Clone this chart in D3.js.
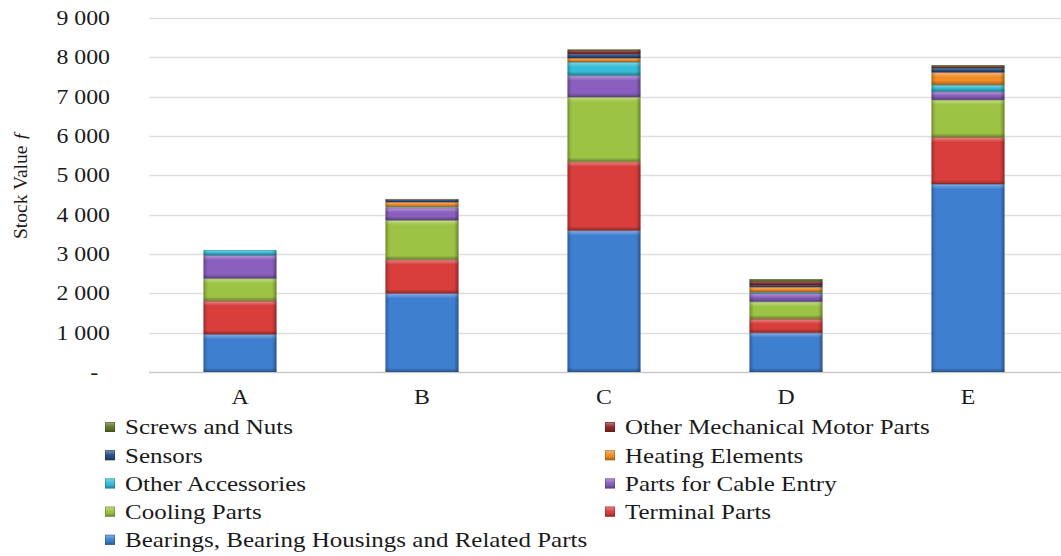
<!DOCTYPE html>
<html>
<head>
<meta charset="utf-8">
<script src="https://cdn.jsdelivr.net/npm/d3@7"></script>
<style>
  html, body { margin: 0; padding: 0; background: #fff; }
  svg { display: block; font-family: "Liberation Serif", "Times New Roman", serif; }
</style>
</head>
<body>
<svg id="chart" width="1061" height="556"></svg>
<script>
// Stock value by category, stacked by part group (bottom to top)
const categories = ["A", "B", "C", "D", "E"];

const bearings   = [960, 2000, 3600, 1000, 4780];
const terminal   = [850,  860, 1750,  350, 1190];
const cooling    = [570, 1000, 1640,  440,  950];
const cableEntry = [590,  320,  550,  210,  210];
const otherAcc   = [130,   20,  340,   30,  170];
const heating    = [  0,  120,  100,  130,  320];
const sensors    = [  0,   60,  110,   50,  110];
const otherMech  = [  0,   10,   85,   90,   40];
const screws     = [  0,   10,   25,   60,   30];

const seriesNames = [
  "Bearings, Bearing Housings and Related Parts",
  "Terminal Parts",
  "Cooling Parts",
  "Parts for Cable Entry",
  "Other Accessories",
  "Heating Elements",
  "Sensors",
  "Other Mechanical Motor Parts",
  "Screws and Nuts"
];
const seriesValues = [bearings, terminal, cooling, cableEntry, otherAcc, heating, sensors, otherMech, screws];
const seriesColors = ["#3f7fd0", "#d83e3c", "#9cc344", "#8a5fbd", "#35bcd6", "#f08b26", "#2a4f86", "#8e2b2b", "#5e7a2c"];

const yTicks = [0, 1000, 2000, 3000, 4000, 5000, 6000, 7000, 8000, 9000];
const yTickLabels = ["-", "1 000", "2 000", "3 000", "4 000", "5 000", "6 000", "7 000", "8 000", "9 000"];

// legend layout: two columns, read row by row
const legendOrder = [8, 7, 6, 5, 4, 3, 2, 1, 0];

// text is drawn slightly widened
const SX = 1.19;

const svg = d3.select("#chart");
const plot = { left: 149, right: 1059, top: 18, bottom: 372 };

const rows = categories.map((c, i) => {
  const r = { category: c };
  seriesNames.forEach((s, k) => { r[s] = seriesValues[k][i]; });
  return r;
});
const stacked = d3.stack().keys(seriesNames)(rows);

const x = d3.scaleBand().domain(categories).range([plot.left, plot.right]).paddingInner(0.6).paddingOuter(0.3);
const y = d3.scaleLinear().domain([0, 9000]).range([plot.bottom, plot.top]);
const color = d3.scaleOrdinal().domain(seriesNames).range(seriesColors);

// gridlines
svg.append("g")
  .selectAll("line")
  .data(yTicks)
  .join("line")
  .attr("x1", plot.left).attr("x2", 1061)
  .attr("y1", d => Math.round(y(d)) + 0.5).attr("y2", d => Math.round(y(d)) + 0.5)
  .attr("stroke", d => d === 0 ? "#c8c8c8" : "#dedede")
  .attr("stroke-width", 1.3);

// y axis labels
const yAxis = d3.axisLeft(y).tickValues(yTicks).tickFormat((d, i) => yTickLabels[i]).tickSize(0).tickPadding(0);
const gy = svg.append("g").attr("transform", "translate(110,0)").call(yAxis);
gy.select(".domain").remove();
gy.selectAll(".tick text")
  .attr("font-family", "Liberation Serif, serif")
  .attr("font-size", 20)
  .attr("fill", "#1a1a1a")
  .attr("text-anchor", "end")
  .attr("x", d => d === 0 ? -10 : 0)
  .attr("transform", "scale(" + SX + ",1)");

// x axis labels
const xAxis = d3.axisBottom(x).tickSize(0).tickPadding(0);
const gx = svg.append("g").attr("transform", "translate(0," + (plot.bottom + 25) + ")").call(xAxis);
gx.select(".domain").remove();
gx.selectAll(".tick text")
  .attr("font-family", "Liberation Serif, serif")
  .attr("font-size", 20)
  .attr("fill", "#1a1a1a")
  .attr("y", 0)
  .attr("dy", "0.35em")
  .attr("transform", "scale(" + SX + ",1)");

// bevel gradients
const defs = svg.append("defs");
const vGrad = defs.append("linearGradient").attr("id", "vshade").attr("x1", 0).attr("y1", 0).attr("x2", 0).attr("y2", 1);
vGrad.append("stop").attr("offset", 0).attr("stop-color", "#fff").attr("stop-opacity", 0.4);
vGrad.append("stop").attr("offset", 1).attr("stop-color", "#fff").attr("stop-opacity", 0.0);
const vGradB = defs.append("linearGradient").attr("id", "vshadeB").attr("x1", 0).attr("y1", 0).attr("x2", 0).attr("y2", 1);
vGradB.append("stop").attr("offset", 0).attr("stop-color", "#000").attr("stop-opacity", 0.0);
vGradB.append("stop").attr("offset", 1).attr("stop-color", "#000").attr("stop-opacity", 0.32);
const hGrad = defs.append("linearGradient").attr("id", "hshade").attr("x1", 0).attr("y1", 0).attr("x2", 1).attr("y2", 0);
hGrad.append("stop").attr("offset", 0).attr("stop-color", "#000").attr("stop-opacity", 0.22);
hGrad.append("stop").attr("offset", 0.06).attr("stop-color", "#000").attr("stop-opacity", 0.0);
hGrad.append("stop").attr("offset", 0.94).attr("stop-color", "#000").attr("stop-opacity", 0.0);
hGrad.append("stop").attr("offset", 1).attr("stop-color", "#000").attr("stop-opacity", 0.3);

// draws one beveled block
function bevelBlock(g, x0, y0, w, h, fill) {
  if (h <= 0) return;
  g.append("rect").attr("x", x0).attr("y", y0).attr("width", w).attr("height", h).attr("fill", fill);
  const vh = Math.min(5, h / 2);
  g.append("rect").attr("x", x0).attr("y", y0).attr("width", w).attr("height", vh).attr("fill", "url(#vshade)");
  const bh = Math.min(4, h / 2);
  g.append("rect").attr("x", x0).attr("y", y0 + h - bh).attr("width", w).attr("height", bh).attr("fill", "url(#vshadeB)");
  g.append("rect").attr("x", x0).attr("y", y0).attr("width", w).attr("height", h).attr("fill", "url(#hshade)");
  g.append("rect").attr("x", x0 + 0.4).attr("y", y0 + 0.4).attr("width", Math.max(0, w - 0.8)).attr("height", Math.max(0, h - 0.8))
    .attr("fill", "none").attr("stroke", d3.color(fill).darker(1.2)).attr("stroke-opacity", 0.55).attr("stroke-width", 0.8);
}

// stacked bars
const barsG = svg.append("g");
stacked.forEach(layer => {
  const lg = barsG.append("g").attr("class", "series");
  layer.forEach(seg => {
    const y0 = y(seg[1]);
    const h = y(seg[0]) - y(seg[1]);
    bevelBlock(lg, x(seg.data.category), y0, x.bandwidth(), h, color(layer.key));
  });
});

// y axis title
svg.append("text")
  .attr("transform", "translate(27,185) rotate(-90)")
  .attr("text-anchor", "middle")
  .attr("font-size", 19.5)
  .attr("fill", "#1a1a1a")
  .text("Stock Value ")
  .append("tspan").attr("font-style", "italic").text("ƒ");

// legend
const legend = svg.append("g");
legendOrder.forEach((k, i) => {
  const col = i % 2, row = Math.floor(i / 2);
  const lx = col === 0 ? 105 : 605;
  const ly = 427 + row * 28.2;
  const g = legend.append("g").attr("transform", "translate(" + lx + "," + ly + ")");
  bevelBlock(g, 0, -5, 10, 10, seriesColors[k]);
  g.append("text")
    .attr("x", 20 / SX)
    .attr("y", 0)
    .attr("dy", "0.35em")
    .attr("font-size", 21)
    .attr("fill", "#1a1a1a")
    .attr("transform", "scale(" + SX + ",1)")
    .text(seriesNames[k]);
});
</script>
</body>
</html>
